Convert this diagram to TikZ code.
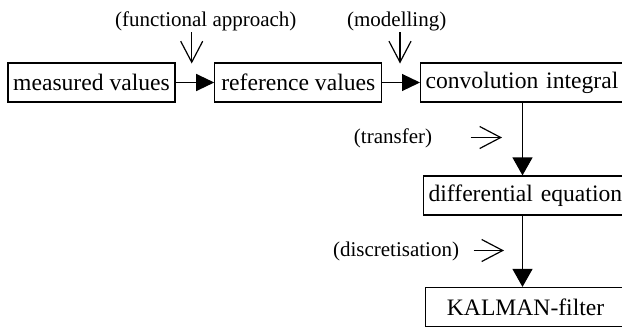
\documentclass[tikz,border=0pt]{standalone}
\usepackage{fontspec}
\setmainfont{Liberation Serif}
\usetikzlibrary{arrows.meta}
\tikzstyle{block}=[
    draw = black,
    line width = 1.2pt,
    fill = white,
    minimum height = 39pt,
    inner ysep = 0pt,
    font = \fontsize{23.6}{28}\selectfont
]
\tikzstyle{remark}=[
    inner sep = 1pt,
    font = \fontsize{21}{25}\selectfont
]

\begin{document}
\begin{tikzpicture}[x=1pt, y=-1pt, line width=1.2pt,
    flowh/.style = {-{Triangle[length=18pt,width=17pt]}},
    flowv/.style = {-{Triangle[length=18pt,width=20pt]}},
    hint/.style = {-{Straight Barb[length=21pt,width=22pt]}}]
        \useasboundingbox (0,0) rectangle (622,327);

        \node[block, minimum width=167pt] (meas) at (91.5,82.5) {measured values};
        \node[block, minimum width=167pt] (ref) at (298.3,82.5) {reference values};
        \node[block, anchor=west, inner xsep=5pt, text width=200pt, align=left] (conv) at (420,82.5) {convolution integral};
        \node[block, anchor=west, inner xsep=5pt, text width=200pt, align=left] (diff) at (423,195.5) {differential equation};
        \node[block, anchor=west, minimum width=200pt] (kalman) at (425,307) {KALMAN-filter};
        \coordinate (spine) at (522.5,0);

        \draw[flowh] (meas) -- (ref);
        \draw[flowh] (ref) -- (conv);
        \draw[flowv] (conv.south -| spine) -- (diff.north -| spine);
        \draw[flowv] (diff.south -| spine) -- (kalman.north -| spine);

        \node[remark] (funct) at (205.8,21) {(functional approach)};
        \node[remark] (model) at (396.7,21) {(modelling)};
        \node[remark] (trans) at (393,138) {(transfer)};
        \node[remark] (discr) at (396,251.5) {(discretisation)};

        \coordinate (funct end) at (191.7,63.5);
        \coordinate (model end) at (400,63.5);
        \coordinate (trans start) at (470.5,137.5);
        \coordinate (trans end) at (502,137.5);
        \coordinate (discr start) at (473.5,250.5);
        \coordinate (discr end) at (504,250.5);

        \draw[hint] (funct.south -| funct end) -- (funct end);
        \draw[hint] (model.south -| model end) -- (model end);
        \draw[hint] (trans start) -- (trans end);
        \draw[hint] (discr start) -- (discr end);

    \end{tikzpicture}
\end{document}
